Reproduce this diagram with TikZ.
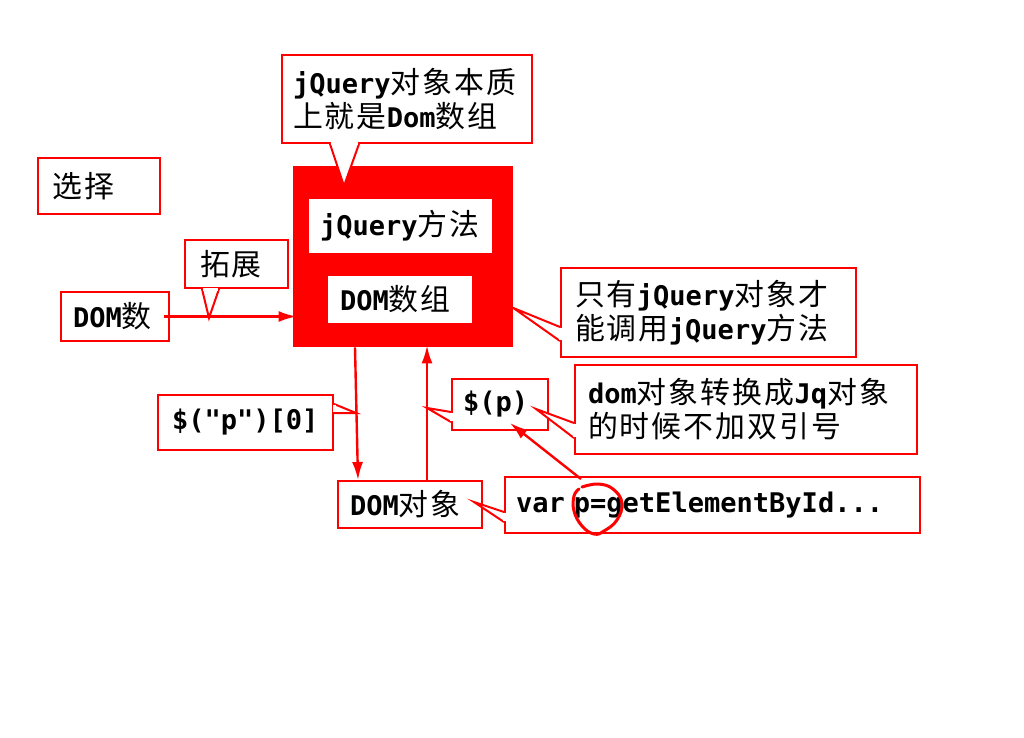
\documentclass[tikz,border=0pt]{standalone}
\usepackage{fontspec}
\setmonofont[Scale=1.04]{DejaVu Sans Mono}
\newfontfamily\cjk[Scale=1.15,LetterSpace=7]{Noto Sans CJK SC}
\newcommand\zh[1]{{\cjk\mdseries #1}}
\usetikzlibrary{arrows.meta,calc}

\begin{document}
\begin{tikzpicture}[
  x=0.5pt, y=-0.5pt,
  font=\fontsize{13pt}{17pt}\selectfont\ttfamily\bfseries,
  box/.style={draw=red,line width=1pt,fill=white,inner xsep=6pt,inner ysep=0pt,align=left},
  core/.style={fill=red,inner sep=0pt},
  slot/.style={fill=white,inner xsep=5.5pt,inner ysep=0pt,align=left},
  pointer/.style={draw=red,line width=1pt,fill=white,line join=miter},
  gap/.style={draw=white,line width=1.5pt,shorten <=0.7pt,shorten >=0.7pt},
  link/.style={draw=red,line width=1.2pt,-{Latex[length=9pt,width=5.5pt]}},
  ring/.style={draw=red,line width=1.5pt,line cap=round}
]

\useasboundingbox (0,0) rectangle (1024,738);

% ===== jQuery object =====
\node[core,minimum width=110pt,minimum height=90.5pt] (core) at (403,256.5) {};
\node[slot,text width=80.5pt,minimum height=27pt] (jqm) at (400.5,226) {jQuery\zh{方法}};
\node[slot,inner xsep=6pt,text width=60pt,minimum height=23.5pt] (darr) at (400,299.5) {DOM\zh{数组}};

% ===== Left side =====
\node[box,inner xsep=7.5pt,text width=46pt,minimum height=28pt] (sel) at (99,186) {\zh{选择}};
\node[box,text width=42pt,minimum height=24.5pt] (dnum) at (115,316.5) {DOM\zh{数}};
\node[box,inner xsep=7.5pt,text width=36.5pt,minimum height=24pt] (ext) at (236.5,264) {\zh{拓展}};
\coordinate (extTip) at ([xshift=12.5pt,yshift=-14.5pt]ext.south west);
\filldraw[pointer] ([xshift=9pt]ext.south west) -- (extTip) -- ([xshift=17.5pt]ext.south west);
\draw[gap] ([xshift=9pt]ext.south west) -- ([xshift=17.5pt]ext.south west);
\draw[link] ([xshift=-3pt]dnum.east) -- ([xshift=2pt]core.west |- dnum.east);

% ===== Top note =====
\node[box,inner xsep=5.5pt,text width=114pt,minimum height=44pt] (q) at (407,99) {jQuery\zh{对象本质}\\\zh{上就是}Dom\zh{数组}};
\coordinate (qTip) at ([xshift=31.5pt,yshift=-21pt]q.south west);
\filldraw[pointer] ([xshift=24.5pt]q.south west) -- (qTip) -- ([xshift=39pt]q.south west);
\draw[gap] ([xshift=24.5pt]q.south west) -- ([xshift=39pt]q.south west);

% ===== Right note =====
\node[box,inner xsep=7pt,text width=133.5pt,minimum height=44.5pt] (only) at (708.5,312.5) {\zh{只有}jQuery\zh{对象才}\\\zh{能调用}jQuery\zh{方法}};
\coordinate (onlyTip) at ([yshift=-25.75pt]core.east);
\filldraw[pointer] ([yshift=-30pt]only.north west) -- (onlyTip) -- ([yshift=-37pt]only.north west);
\draw[gap] ([yshift=-30pt]only.north west) -- ([yshift=-37pt]only.north west);

% ===== DOM object =====
\node[box,text width=60pt,minimum height=23.5pt] (dobj) at (410,504.5) {DOM\zh{对象}};
\node[box,inner xsep=7pt,text width=73.5pt,minimum height=27.5pt] (idx) at (245.5,422.5) {\$("p")[0]};
\coordinate (idxTip) at ([xshift=11pt,yshift=-9.5pt]idx.north east);
\filldraw[pointer] ([yshift=-5pt]idx.north east) -- (idxTip) -- ([yshift=-9.5pt]idx.north east);
\draw[gap] ([yshift=-5pt]idx.north east) -- ([yshift=-9.5pt]idx.north east);
\draw[link] ([xshift=-24pt]core.south) -- ([xshift=-26pt]dobj.north);
\draw[link] ([xshift=8.5pt]dobj.north) -- ([xshift=12pt,yshift=1pt]core.south);

% ===== Wrapping =====
\node[box,inner xsep=5.5pt,text width=37pt,minimum height=25.5pt] (wrap) at (500,404.5) {\$(p)};
\coordinate (wrapTip) at ([xshift=-12pt,yshift=-15pt]wrap.north west);
\filldraw[pointer] ([yshift=-17pt]wrap.north west) -- (wrapTip) -- ([yshift=-22pt]wrap.north west);
\draw[gap] ([yshift=-17pt]wrap.north west) -- ([yshift=-22pt]wrap.north west);

\node[box,inner xsep=6.5pt,text width=158pt,minimum height=44.5pt] (note) at (746,409.5) {dom\zh{对象转换成}Jq\zh{对象}\\\zh{的时候不加双引号}};
\coordinate (noteTip) at ([xshift=-19pt,yshift=-22.5pt]note.north west);
\filldraw[pointer] ([yshift=-29.5pt]note.north west) -- (noteTip) -- ([yshift=-37pt]note.north west);
\draw[gap] ([yshift=-29.5pt]note.north west) -- ([yshift=-37pt]note.north west);

\node[box,inner xsep=5.5pt,text width=196.5pt,minimum height=28pt] (var) at (712.5,505) {var p=getElementById...};
\coordinate (varTip) at ([xshift=-15pt,yshift=-13pt]var.north west);
\filldraw[pointer] ([yshift=-18pt]var.north west) -- (varTip) -- ([yshift=-23pt]var.north west);
\draw[gap] ([yshift=-18pt]var.north west) -- ([yshift=-23pt]var.north west);

% ===== p marker =====
\draw[link] ([xshift=38.5pt,yshift=-1.5pt]var.north west) -- ([xshift=5pt,yshift=4pt]wrap.south);
\draw[ring] plot[smooth,tension=0.7] coordinates {(582,487) (598,484) (613,489) (622,503) (617,520) (604,531) (594,534) (582,526) (574,511) (574,496) (579,489)};

\end{tikzpicture}
\end{document}
